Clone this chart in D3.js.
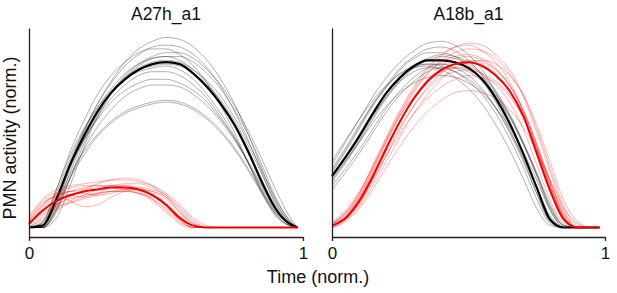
<!DOCTYPE html>
<html>
<head>
<meta charset="utf-8">
<script src="https://cdn.jsdelivr.net/npm/d3@7"></script>
<style>
  body { margin: 0; background: #fff; }
  text { font-family: "Liberation Sans", Arial, sans-serif; fill: #111; }
</style>
</head>
<body>
<div id="container"></div>
<script>
/* CONSTANTS AND GLOBALS */
const width = 617, height = 293;

// shared time grid (normalised time), every trace below is read at these points
const timeGrid = [0, .05, .1, .15, .2, .25, .3, .35, .4, .45, .5, .55, .6, .65, .7, .75, .8, .85, .9, .95, .98];

const panelTitles = ["A27h_a1", "A18b_a1"];
const xTickValues = [0, 1];

/* A27h_a1 : grey (control) traces */
const a27hGrey = [
  [0, 0, .12, .32, .50, .65, .77, .87, .94, .98, 1.0, .99, .95, .88, .78, .65, .49, .31, .14, .03, 0],
  [0, .01, .14, .34, .51, .65, .76, .85, .91, .95, .96, .95, .91, .84, .74, .61, .46, .29, .12, .03, 0],
  [0, 0, .08, .26, .44, .59, .71, .80, .86, .90, .92, .92, .89, .83, .75, .64, .51, .36, .20, .06, 0],
  [0, .02, .18, .36, .51, .63, .73, .81, .86, .89, .90, .88, .83, .76, .66, .54, .39, .23, .09, .02, 0],
  [0, 0, .10, .29, .46, .60, .71, .79, .84, .87, .88, .87, .83, .77, .69, .58, .45, .30, .15, .04, 0],
  [0, .03, .20, .38, .52, .63, .72, .78, .82, .84, .85, .83, .78, .70, .60, .48, .34, .19, .07, .01, 0],
  [0, .01, .13, .31, .46, .58, .68, .75, .80, .82, .82, .80, .75, .68, .58, .47, .34, .20, .08, .02, 0],
  [0, .02, .16, .33, .46, .57, .66, .72, .76, .78, .78, .76, .72, .66, .57, .47, .35, .22, .10, .02, 0],
  [0, 0, .09, .26, .41, .53, .62, .69, .73, .75, .75, .74, .70, .64, .56, .46, .34, .21, .09, .02, 0],
  [0, .01, .12, .28, .40, .49, .56, .61, .64, .66, .67, .66, .63, .58, .51, .42, .31, .19, .08, .02, 0],
  [0, 0, .10, .26, .38, .48, .55, .60, .63, .65, .66, .65, .62, .57, .50, .41, .30, .18, .07, .01, 0],
  [0, .03, .20, .40, .56, .70, .80, .87, .92, .94, .94, .91, .85, .76, .64, .50, .34, .18, .06, .01, 0],
  [0, 0, .05, .22, .42, .58, .70, .79, .85, .89, .90, .90, .87, .81, .73, .62, .49, .33, .16, .04, 0],
  [0, .01, .15, .34, .49, .61, .71, .78, .83, .85, .86, .85, .81, .75, .67, .56, .43, .28, .13, .03, 0]
];
const a27hGreyMean = [0, .01, .15, .33, .48, .61, .71, .78, .83, .86, .87, .86, .81, .74, .65, .54, .40, .24, .10, .02, 0];

/* A27h_a1 : red traces */
const a27hRed = [
  [.05, .14, .18, .17, .16, .18, .21, .22, .21, .18, .13, .06, .01, 0, 0, 0, 0, 0, 0, 0, 0],
  [0, .06, .12, .16, .20, .23, .25, .26, .25, .22, .17, .09, .02, 0, 0, 0, 0, 0, 0, 0, 0],
  [.03, .12, .17, .19, .20, .21, .22, .22, .20, .17, .11, .04, 0, 0, 0, 0, 0, 0, 0, 0, 0],
  [.01, .07, .11, .13, .15, .17, .19, .20, .20, .19, .16, .10, .03, 0, 0, 0, 0, 0, 0, 0, 0],
  [.04, .13, .16, .14, .11, .12, .16, .19, .20, .19, .15, .08, .02, 0, 0, 0, 0, 0, 0, 0, 0],
  [0, .05, .10, .14, .17, .20, .22, .23, .23, .21, .16, .08, .01, 0, 0, 0, 0, 0, 0, 0, 0],
  [.02, .10, .16, .19, .21, .22, .22, .21, .19, .15, .09, .03, 0, 0, 0, 0, 0, 0, 0, 0, 0],
  [.06, .15, .20, .22, .23, .24, .25, .25, .24, .22, .18, .12, .05, .01, 0, 0, 0, 0, 0, 0, 0],
  [.02, .08, .12, .15, .17, .18, .19, .19, .18, .15, .10, .04, 0, 0, 0, 0, 0, 0, 0, 0, 0],
  [.01, .11, .17, .19, .18, .17, .18, .20, .21, .20, .17, .11, .04, 0, 0, 0, 0, 0, 0, 0, 0],
  [0, .04, .09, .13, .16, .18, .19, .19, .18, .16, .12, .06, .01, 0, 0, 0, 0, 0, 0, 0, 0],
  [.03, .12, .18, .21, .22, .22, .21, .20, .18, .14, .08, .02, 0, 0, 0, 0, 0, 0, 0, 0, 0]
];
const a27hRedMean = [.02, .09, .14, .17, .19, .20, .21, .21, .20, .17, .12, .05, .01, 0, 0, 0, 0, 0, 0, 0, 0];

/* A18b_a1 : grey traces */
const a18bGrey = [
  [.33, .45, .57, .69, .79, .87, .93, .97, .98, .96, .91, .83, .71, .56, .39, .21, .05, 0, 0, 0, 0],
  [.30, .41, .53, .65, .75, .84, .90, .94, .95, .93, .88, .80, .69, .55, .39, .21, .04, 0, 0, 0, 0],
  [.25, .35, .46, .58, .69, .78, .85, .89, .91, .90, .87, .81, .72, .60, .45, .28, .10, .01, 0, 0, 0],
  [.22, .31, .41, .52, .63, .72, .79, .84, .86, .86, .83, .78, .70, .59, .45, .29, .12, .01, 0, 0, 0],
  [.28, .38, .49, .61, .71, .79, .84, .86, .86, .84, .80, .73, .63, .50, .35, .18, .03, 0, 0, 0, 0],
  [.31, .42, .54, .65, .74, .81, .85, .86, .85, .82, .77, .70, .60, .47, .32, .15, .02, 0, 0, 0, 0],
  [.20, .29, .39, .50, .61, .70, .77, .82, .84, .84, .82, .77, .69, .58, .44, .28, .11, .01, 0, 0, 0],
  [.35, .46, .57, .67, .75, .81, .84, .85, .83, .79, .73, .65, .54, .41, .26, .10, .01, 0, 0, 0, 0],
  [.27, .37, .48, .59, .69, .77, .82, .84, .84, .82, .78, .72, .63, .51, .37, .21, .06, 0, 0, 0, 0],
  [.24, .34, .45, .57, .68, .77, .84, .88, .90, .89, .86, .80, .71, .59, .44, .27, .09, 0, 0, 0, 0],
  [.29, .40, .52, .64, .74, .83, .89, .92, .92, .90, .85, .77, .66, .52, .36, .18, .03, 0, 0, 0, 0],
  [.26, .35, .45, .55, .64, .71, .76, .79, .80, .79, .76, .71, .63, .53, .40, .25, .09, 0, 0, 0, 0]
];
const a18bGreyMean = [.27, .37, .48, .60, .71, .79, .85, .88, .88, .87, .84, .78, .68, .55, .39, .21, .04, 0, 0, 0, 0];

/* A18b_a1 : red traces */
const a18bRed = [
  [.02, .08, .18, .32, .47, .61, .73, .83, .90, .95, .97, .96, .91, .83, .70, .52, .31, .11, .01, 0, 0],
  [.01, .06, .16, .30, .45, .59, .71, .81, .88, .92, .94, .93, .89, .81, .69, .50, .29, .09, 0, 0, 0],
  [0, .04, .12, .24, .38, .52, .64, .74, .81, .86, .88, .87, .83, .75, .62, .44, .24, .06, 0, 0, 0],
  [.02, .07, .16, .29, .43, .56, .67, .76, .82, .86, .87, .86, .81, .73, .60, .41, .21, .05, 0, 0, 0],
  [.01, .05, .13, .25, .38, .50, .60, .68, .74, .78, .80, .79, .76, .69, .58, .42, .24, .08, 0, 0, 0],
  [0, .03, .10, .20, .32, .43, .53, .61, .67, .71, .72, .71, .68, .62, .53, .40, .25, .10, .02, 0, 0],
  [.03, .09, .19, .32, .46, .59, .69, .77, .82, .84, .84, .81, .75, .66, .52, .33, .14, .02, 0, 0, 0],
  [.01, .06, .15, .28, .42, .56, .68, .78, .85, .89, .90, .88, .83, .75, .62, .44, .24, .07, 0, 0, 0],
  [0, .04, .11, .22, .35, .48, .60, .70, .78, .84, .87, .88, .86, .80, .70, .54, .34, .14, .03, 0, 0],
  [.02, .07, .17, .31, .46, .60, .72, .81, .87, .90, .91, .89, .84, .75, .61, .42, .21, .05, 0, 0, 0],
  [.01, .05, .13, .26, .40, .53, .64, .73, .79, .82, .83, .81, .77, .70, .58, .41, .22, .06, 0, 0, 0],
  [.02, .08, .18, .33, .48, .62, .74, .84, .91, .95, .96, .93, .87, .77, .62, .43, .22, .05, 0, 0, 0]
];
const a18bRedMean = [.01, .05, .14, .27, .42, .56, .68, .77, .83, .86, .87, .85, .80, .72, .59, .39, .19, .04, 0, 0, 0];

/* build the two panels from the named arrays */
const panels = [
  { title: panelTitles[0], x0: 29, x1: 303, grey: a27hGrey, greyMean: a27hGreyMean, red: a27hRed, redMean: a27hRedMean },
  { title: panelTitles[1], x0: 332, x1: 605, grey: a18bGrey, greyMean: a18bGreyMean, red: a18bRed, redMean: a18bRedMean }
];

const svg = d3.select("#container").append("svg")
  .attr("width", width)
  .attr("height", height);

const yScale = d3.scaleLinear()
  .domain([-0.05, 1.05])
  .range([237, 28]);

panels.forEach(p => {
  const xScale = d3.scaleLinear().domain([0, 1]).range([p.x0, p.x1]);

  const lineGen = d3.line()
    .x((d, i) => xScale(timeGrid[i]))
    .y(d => yScale(d))
    .curve(d3.curveMonotoneX);

  const g = svg.append("g");

  // grey single trials
  g.selectAll("path.grey")
    .data(p.grey)
    .join("path")
    .attr("class", "grey")
    .attr("fill", "none")
    .attr("stroke", "#000")
    .attr("stroke-opacity", 0.38)
    .attr("stroke-width", 0.8)
    .attr("d", lineGen);

  // grey mean
  g.append("path")
    .datum(p.greyMean)
    .attr("fill", "none")
    .attr("stroke", "#000")
    .attr("stroke-width", 2.2)
    .attr("d", lineGen);

  // red single trials
  g.selectAll("path.red")
    .data(p.red)
    .join("path")
    .attr("class", "red")
    .attr("fill", "none")
    .attr("stroke", "#ff0000")
    .attr("stroke-opacity", 0.38)
    .attr("stroke-width", 0.8)
    .attr("d", lineGen);

  // red mean
  g.append("path")
    .datum(p.redMean)
    .attr("fill", "none")
    .attr("stroke", "#ee0000")
    .attr("stroke-width", 2)
    .attr("d", lineGen);

  // axes
  const xAxis = d3.axisBottom(xScale)
    .tickValues(xTickValues)
    .tickFormat(d3.format("d"))
    .tickSizeInner(4)
    .tickSizeOuter(0)
    .tickPadding(6);

  const xAxisGroup = svg.append("g")
    .attr("transform", `translate(0,${yScale(-0.05)})`)
    .call(xAxis);
  xAxisGroup.select(".domain").attr("stroke", "#222").attr("stroke-width", 1.3);
  xAxisGroup.selectAll(".tick line").attr("stroke", "#222").attr("stroke-width", 1.3);
  xAxisGroup.selectAll(".tick text")
    .style("font-family", "'Liberation Sans', Arial, sans-serif")
    .style("font-size", "17px")
    .attr("fill", "#111");

  const yAxisGroup = svg.append("g")
    .attr("transform", `translate(${p.x0},0)`)
    .call(d3.axisLeft(yScale).tickValues([]).tickSizeOuter(0));
  yAxisGroup.select(".domain").attr("stroke", "#222").attr("stroke-width", 1.3);

  // panel title
  svg.append("text")
    .attr("x", (p.x0 + p.x1) / 2)
    .attr("y", 20)
    .attr("text-anchor", "middle")
    .style("font-size", "17.5px")
    .text(p.title);
});

// axis labels
svg.append("text")
  .attr("x", 318)
  .attr("y", 283)
  .attr("text-anchor", "middle")
  .style("font-size", "18px")
  .text("Time (norm.)");

svg.append("text")
  .attr("transform", "translate(16,138) rotate(-90)")
  .attr("text-anchor", "middle")
  .style("font-size", "18px")
  .text("PMN activity (norm.)");
</script>
</body>
</html>
